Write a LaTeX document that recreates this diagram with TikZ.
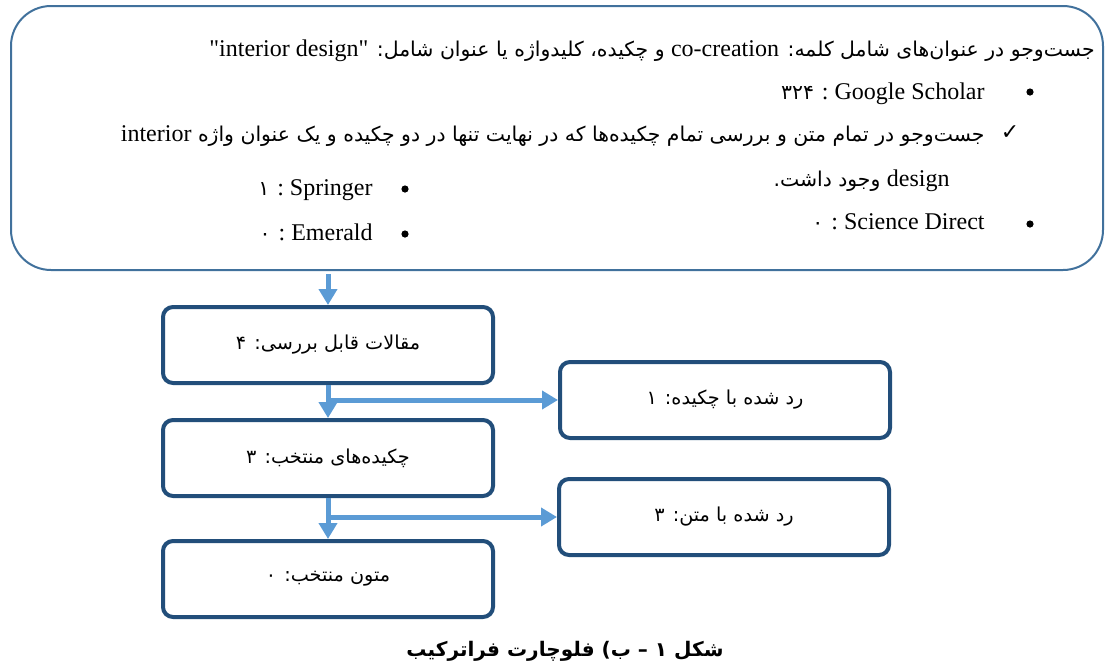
\documentclass[tikz,border=0pt]{standalone}
\usepackage{fontspec}
\setmainfont{Liberation Serif}[Ligatures=TeXOff]
\newfontfamily\fa[Script=Arabic, Scale=0.85]{DejaVu Sans}
\newfontfamily\symb{DejaVu Sans}
\TeXXeTstate=1
\usetikzlibrary{
    arrows.meta, positioning, calc
}
\definecolor{colFrame}{RGB}{65, 113, 156}
\definecolor{colBox}{RGB}{34, 78, 122}
\definecolor{colArrow}{RGB}{91, 155, 213}

\tikzset{
    stagebox/.style={draw=colBox, line width=2pt, rounded corners=5pt, fill=white,
        minimum width=165pt, minimum height=38pt, inner sep=0pt,
        font=\fontsize{11.3}{13}\fa},
    flow/.style={draw=colArrow, line width=2.5pt, -{Triangle[width=9pt,length=8pt]}},
    textline/.style={anchor=base east, inner sep=0pt, font=\fontsize{12}{14}\selectfont},
    dotmark/.style={circle, fill=black, inner sep=0pt, minimum size=3.6pt}
}

\begin{document}
\begin{tikzpicture}[x=0.5pt, y=-0.5pt]
    \useasboundingbox (0,0) rectangle (1105,671);

    % Search box
    \node[draw=colFrame, line width=1pt, rounded corners=20pt,
        minimum width=546pt, minimum height=132pt] (search) at (557,138) {};
    \node[textline] (l1) at (1095,56) {\fa\beginR جست‌وجو در عنوان‌های شامل کلمه: \beginL{\rmfamily co-creation}\endL{}  و چکیده، کلیدواژه یا عنوان شامل: \beginL{\rmfamily "interior design"}\endL\endR};
    \node[dotmark] (b1) at (1030,92) {};
    \node[textline] (l2) at (985,99) {\beginR\beginL Google Scholar\endL{} : {\fa ۳۲۴}\endR};
    \node[inner sep=0pt, font=\fontsize{11}{12}\symb] (ck) at (1010,133) {✓};
    \node[textline] (l3) at (985,141) {\fa\beginR جست‌وجو در تمام متن و بررسی تمام چکیده‌ها که در نهایت تنها در دو چکیده و یک عنوان واژه \beginL{\rmfamily interior}\endL\endR};
    \node[textline] (l4) at (950,186) {\fa\beginR\beginL{\rmfamily design}\endL{} وجود داشت.\endR};
    \node[dotmark] (b2) at (405,189) {};
    \node[textline] (l5) at (373,195) {\beginR\beginL Springer\endL{} : {\fa ۱}\endR};
    \node[dotmark] (b3) at (1030,224) {};
    \node[textline] (l6) at (985,229) {\beginR\beginL Science Direct\endL{} : {\fa ۰}\endR};
    \node[dotmark] (b4) at (405,234) {};
    \node[textline] (l7) at (373,240) {\beginR\beginL Emerald\endL{} : {\fa ۰}\endR};

    % Stages
    \node[stagebox] (reviewable) at (328,345) {\beginR مقالات قابل بررسی: ۴\endR};
    \node[stagebox] (abstracts) at (328,458) {\beginR چکیده‌های منتخب: ۳\endR};
    \node[stagebox] (fulltexts) at (328,579) {\beginR متون منتخب: ۰\endR};
    \node[stagebox] (rejectAbs) at (725,400) {\beginR رد شده با چکیده: ۱\endR};
    \node[stagebox] (rejectText) at (724,517) {\beginR رد شده با متن: ۳\endR};

    % Arrows
    \draw[flow] ([yshift=-1.5pt]search.south -| reviewable.north) -- (reviewable.north);
    \draw[flow] (reviewable.south) -- (abstracts.north);
    \draw[flow] (reviewable.south |- rejectAbs.west) -- (rejectAbs.west);
    \draw[flow] (abstracts.south) -- (fulltexts.north);
    \draw[flow] (abstracts.south |- rejectText.west) -- (rejectText.west);

    % Caption
    \node[font=\fontsize{11.8}{14}\fa\bfseries] (caption) at (565,651) {\beginR شکل ۱ – ب) فلوچارت فراترکیب\endR};
\end{tikzpicture}
\end{document}
